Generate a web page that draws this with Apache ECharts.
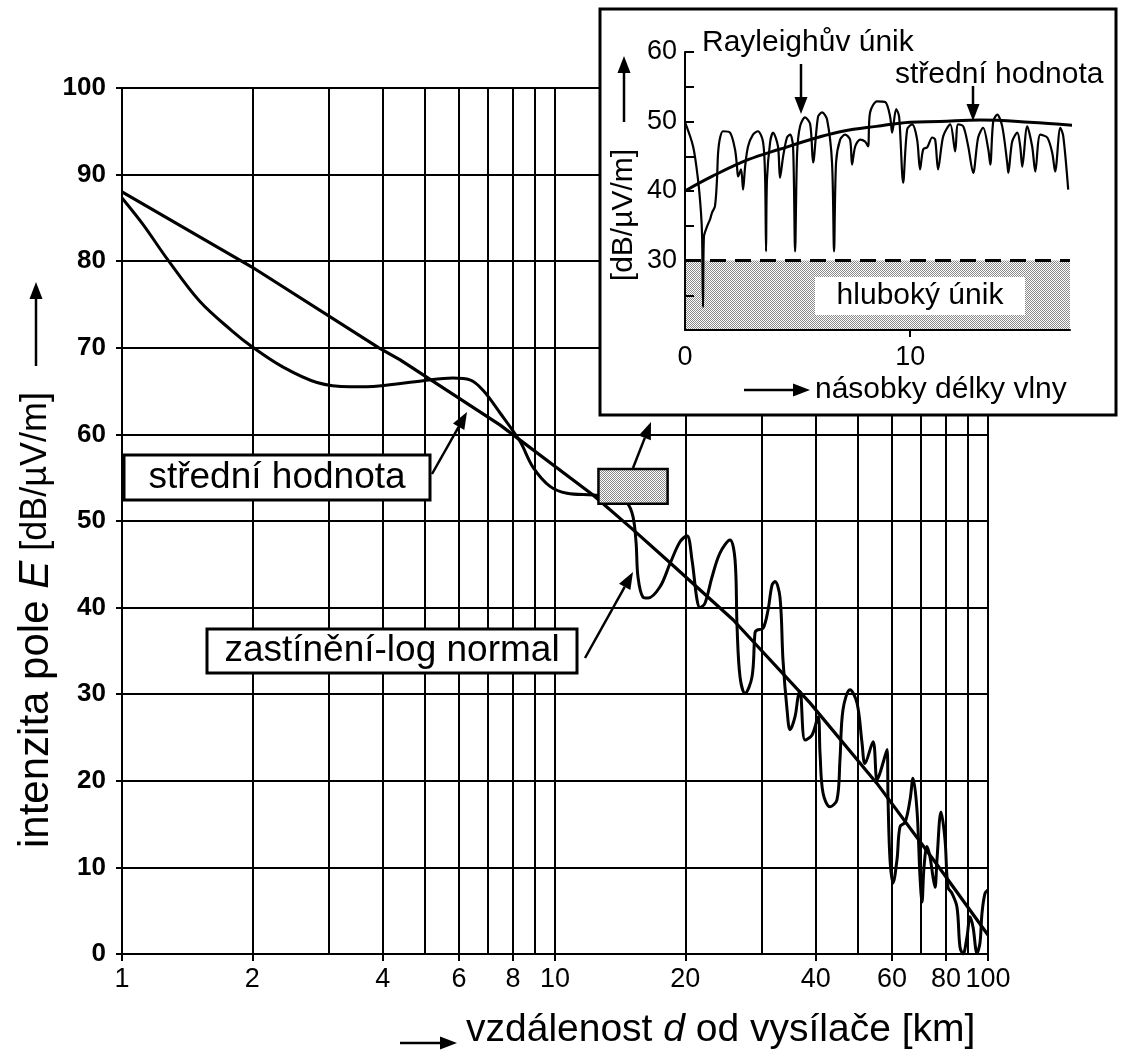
<!DOCTYPE html>
<html>
<head>
    <meta charset="utf-8">
    <title>Intenzita pole</title>
    <script src="https://cdn.jsdelivr.net/npm/echarts@6/dist/echarts.min.js"></script>
    <style>
        html, body { margin: 0; padding: 0; background: #fff; }
        #chart { width: 1128px; height: 1053px; }
    </style>
</head>
<body>
<div id="chart"></div>
<script>
    // hlavni graf: vzdalenost [km] a intenzita pole [dB/uV/m]
    var fadeKm = [1, 1.12, 1.27, 1.51, 1.8, 2.0, 2.35, 2.82, 3.36, 3.92, 4.96, 5.81, 6.36, 6.82, 7.46, 8.3, 8.9, 9.74,
        10.66, 12.24, 13.91, 14.67, 15.14, 15.39, 15.55, 15.97, 16.4, 17.48, 18.44, 19.44, 20.17, 20.72, 21.28, 21.62,
        22.2, 23.04, 24.04, 25.36, 26.05, 26.33, 26.75, 27.47, 28.51, 28.97, 29.28, 30.23, 31.04, 31.71, 32.22, 33.08,
        33.62, 34.35, 34.9, 35.84, 36.42, 36.81, 37.8, 39.24, 40.51, 40.93, 41.59, 43.16, 44.79, 45.51, 46.25, 48.01,
        49.83, 51.17, 51.99, 54.26, 55.42, 56.31, 58.46, 58.77, 59.39, 60.35, 61.64, 62.63, 64.33, 66.06, 67.12, 68.55,
        69.66, 70.4, 71.15, 72.29, 73.46, 74.64, 75.44, 76.24, 77.89, 79.56, 80.84, 82.58, 84.8, 86.16, 87.56, 89.44,
        90.88, 92.35, 94.33, 95.83, 96.85, 98.42, 100];
    var fadeDb = [87.3, 84.2, 80.3, 75.4, 71.9, 70.1, 67.8, 66.0, 65.5, 65.6, 66.2, 66.5, 66.3, 65.1, 62.5, 59.2, 56.2, 54.0,
        53.2, 53.0, 52.7, 52.1, 50.5, 47.5, 43.5, 41.2, 41.1, 42.4, 45.1, 47.6, 48.3, 45.5, 40.9, 40,
        40.5, 43.5, 46.3, 47.8, 45.5, 37.8, 32, 30.1, 32, 37.1, 37.4, 37.6, 39.7, 42.6, 43, 41.2,
        33.9, 28.2, 25.9, 27.4, 29.7, 30.3, 24.7, 25.3, 27.4, 23.2, 18.6, 17, 17.8, 22.4, 28.2, 30.5,
        29, 24.4, 22, 24.5, 20.1, 20.9, 23.6, 17.8, 10.9, 8.2, 10.9, 14.7, 15.2, 17.8, 20.3, 16.6,
        8.9, 6, 10, 12.4, 11.2, 8.9, 7.7, 10.9, 16.4, 13.2, 7.7, 7, 5.4, 0.8, 0, 2,
        4.3, 3.1, 0.1, 1.3, 4.7, 7, 7.4];
    var meanKm = [1, 2, 3.92, 4.39, 7.46, 12.24, 15.14, 18.14, 25.77, 38.8, 55.4, 76.3, 100];
    var meanDb = [88, 79.3, 70, 68.6, 61.1, 53, 49, 45.5, 38.6, 29, 19.7, 10.3, 2.2];
    var gridKm = [2, 3, 4, 5, 6, 7, 8, 9, 10, 20, 30, 40, 50, 60, 70, 80, 90, 100];
    var xTickKm = [1, 2, 4, 6, 8, 10, 20, 40, 60, 80, 100];
    var boxKm = [12.6, 18.2];
    var boxDb = [56, 52];

    // vlozeny graf: nasobky delky vlny
    var waveX = [0, 0.36, 0.58, 0.71, 0.76, 0.8, 0.84, 0.98, 1.11, 1.2, 1.33, 1.42, 1.47, 1.56, 1.69, 2.0, 2.22, 2.31,
        2.36, 2.49, 2.58, 2.67, 2.8, 3.02, 3.24, 3.47, 3.56, 3.6, 3.64, 3.78, 3.91, 4.13, 4.22, 4.36, 4.53, 4.67, 4.8,
        4.89, 4.98, 5.11, 5.33, 5.56, 5.69, 5.91, 6.09, 6.31, 6.53, 6.62, 6.71, 6.89, 7.11, 7.33, 7.42, 7.56, 7.78, 8.0,
        8.13, 8.22, 8.53, 8.89, 9.11, 9.2, 9.38, 9.51, 9.69, 9.87, 10.09, 10.31, 10.44, 10.58, 10.76, 10.98, 11.11,
        11.24, 11.47, 11.78, 12.0, 12.13, 12.36, 12.58, 12.8, 13.02, 13.24, 13.47, 13.56, 13.69, 13.87, 14.09, 14.31,
        14.36, 14.53, 14.76, 14.89, 14.98, 15.2, 15.42, 15.56, 15.78, 16.09, 16.31, 16.44, 16.67, 16.8, 17.02];
    var waveDb = [49.9, 46.4, 41.6, 36.9, 33.4, 23.3, 33.4, 34.9, 35.9, 36.9, 37.8, 41.6, 45.5, 47.7, 48.6, 48.4, 46, 43.5,
        42.1, 43.1, 40.2, 43.5, 46.4, 48.1, 48.6, 47, 41.6, 31.3, 41.6, 47, 48.4, 46.4, 41.9, 45, 47.7, 48.1, 46.4,
        31.3, 45.5, 49.3, 50.6, 49.6, 44.1, 50.7, 51.3, 50.3, 44.1, 31.3, 44.1, 47.4, 48.1, 47.4, 43.8, 46.4, 47.4, 47.1,
        46.4, 51.3, 52.9, 52.8, 50.7, 48.4, 51.8, 50.7, 41.2, 48.9, 49.6, 47.4, 43.1, 46, 46.3, 47.7, 47.4,
        43.1, 47.9, 49.6, 45.7, 49.6, 49.3, 46.4, 42.6, 47.7, 49.1, 46, 43.8, 50, 51, 49.3, 44.1,
        42.6, 47.1, 48.4, 46.4, 43.5, 49.3, 46.4, 42.8, 48.1, 47.7, 45.5, 42.8, 49.1, 47.9, 40.2];
    var waveMeanX = [0, 1.2, 2.8, 4.2, 6, 7, 8.5, 10, 11.3, 13.1, 15.3, 17.4];
    var waveMeanDb = [40, 42.1, 44.5, 46, 47.8, 48.6, 49.3, 49.9, 50, 50.2, 49.9, 49.4];
    var deepFadeDb = 30;
    var insetFloorDb = 20;
    var insetEndX = 17.1;

    var FONT = '"Liberation Sans", Arial, Helvetica, sans-serif';

    function pairs(xs, ys) {
        return xs.map(function (x, i) { return [x, ys[i]]; });
    }

    // tečkovaná výplň
    var pc = document.createElement('canvas');
    pc.width = 2; pc.height = 2;
    var pctx = pc.getContext('2d');
    pctx.fillStyle = '#fff';
    pctx.fillRect(0, 0, 2, 2);
    pctx.fillStyle = '#8a8a8a';
    pctx.fillRect(0, 0, 1, 1);
    pctx.fillRect(1, 1, 1, 1);
    var dots = { image: pc, repeat: 'repeat' };

    function arrow(x1, y1, x2, y2, w) {
        var a = Math.atan2(y2 - y1, x2 - x1);
        var L = 17, W = 6.5;
        var bx = x2 - L * Math.cos(a), by = y2 - L * Math.sin(a);
        return [
            { type: 'line', z: 30, shape: { x1: x1, y1: y1, x2: bx, y2: by }, style: { stroke: '#000', lineWidth: w || 2.5 } },
            { type: 'polygon', z: 30, shape: { points: [[x2, y2], [bx + W * Math.sin(a), by - W * Math.cos(a)], [bx - W * Math.sin(a), by + W * Math.cos(a)]] }, style: { fill: '#000' } }
        ];
    }

    function label(x, y, txt, size, align, extra) {
        var el = { type: 'text', z: 31, x: x, y: y, style: { text: txt, fontSize: size, fontFamily: FONT, fill: '#000', align: align || 'left', verticalAlign: 'middle' } };
        if (extra) { for (var k in extra) el[k] = extra[k]; }
        return el;
    }

    var graphics = [
        // ram vlozeneho grafu
        { type: 'rect', z: 6, shape: { x: 600, y: 9, width: 516, height: 406 }, style: { fill: '#fff', stroke: '#000', lineWidth: 3 } },
        { type: 'rect', z: 20, shape: { x: 815, y: 277, width: 210, height: 38 }, style: { fill: '#fff' } },
        label(920, 296, 'hluboký únik', 30, 'center'),
        label(702, 43, 'Rayleighův únik', 30),
        label(895, 75, 'střední hodnota', 30),
        label(815, 390, 'násobky délky vlny', 30),
        label(624, 215, '[dB/µV/m]', 30, 'center', { rotation: Math.PI / 2 }),
        // popisky hlavniho grafu
        { type: 'rect', z: 20, shape: { x: 124, y: 455, width: 306, height: 45 }, style: { fill: '#fff', stroke: '#000', lineWidth: 3 } },
        label(277, 478, 'střední hodnota', 37, 'center'),
        { type: 'rect', z: 20, shape: { x: 207, y: 629, width: 370, height: 44 }, style: { fill: '#fff', stroke: '#000', lineWidth: 3 } },
        label(392, 651, 'zastínění-log normal', 37, 'center'),
        {
            type: 'text', z: 31, x: 466, y: 1030,
            style: {
                text: '{n|vzdálenost }{i|d}{n| od vysílače [km]}', fill: '#000', align: 'left', verticalAlign: 'middle',
                rich: { n: { fontSize: 39, fontFamily: FONT }, i: { fontSize: 39, fontFamily: FONT, fontStyle: 'italic' } }
            }
        },
        {
            type: 'text', z: 31, x: 36, y: 620, rotation: Math.PI / 2,
            style: {
                text: '{n|intenzita pole }{i|E}{s| [dB/µV/m]}', fill: '#000', align: 'center', verticalAlign: 'middle',
                rich: {
                    n: { fontSize: 42, fontFamily: FONT },
                    i: { fontSize: 42, fontFamily: FONT, fontStyle: 'italic' },
                    s: { fontSize: 36, fontFamily: FONT }
                }
            }
        }
    ];
    graphics = graphics
        .concat(arrow(432, 474, 467, 412))
        .concat(arrow(585, 658, 633, 572))
        .concat(arrow(633, 468, 651, 422))
        .concat(arrow(801, 64, 801, 114))
        .concat(arrow(973, 86, 973, 121))
        .concat(arrow(624, 122, 624, 56))
        .concat(arrow(744, 390, 810, 390))
        .concat(arrow(400, 1043, 457, 1043))
        .concat(arrow(36, 366, 36, 282));

    var axisBlack = { color: '#000', width: 2 };

    var option = {
        animation: false,
        backgroundColor: '#fff',
        grid: [
            { left: 122, top: 88, width: 866, height: 866 },
            { left: 685, top: 52, width: 385, height: 278, z: 10 }
        ],
        xAxis: [
            {
                gridIndex: 0, type: 'log', logBase: 10, min: 1, max: 100,
                axisLine: { lineStyle: axisBlack },
                axisTick: { customValues: xTickKm, length: 7, lineStyle: axisBlack },
                axisLabel: { customValues: xTickKm, color: '#000', fontSize: 27, fontFamily: FONT, margin: 12 },
                splitLine: { show: false }
            },
            {
                gridIndex: 1, type: 'value', min: 0, max: insetEndX, z: 10,
                axisLine: { onZero: false, lineStyle: axisBlack },
                axisTick: { customValues: [10], length: 7, lineStyle: axisBlack },
                axisLabel: { customValues: [0, 10], color: '#000', fontSize: 27, fontFamily: FONT, margin: 14 },
                splitLine: { show: false }
            }
        ],
        yAxis: [
            {
                gridIndex: 0, type: 'value', min: 0, max: 100, interval: 10,
                axisLine: { show: true, lineStyle: axisBlack },
                axisTick: { show: true, length: 6, lineStyle: axisBlack },
                axisLabel: { color: '#000', fontSize: 26, fontWeight: 'bold', fontFamily: FONT, margin: 16 },
                splitLine: { lineStyle: axisBlack }
            },
            {
                gridIndex: 1, type: 'value', min: insetFloorDb, max: 60, interval: 5, z: 10,
                axisLine: { show: true, onZero: false, lineStyle: axisBlack },
                axisTick: { show: true, inside: true, length: 9, lineStyle: axisBlack },
                axisLabel: {
                    color: '#000', fontSize: 27, fontFamily: FONT, margin: 8,
                    formatter: function (v) { return (v % 10 === 0 && v > insetFloorDb) ? String(v) : ''; }
                },
                splitLine: { show: false }
            }
        ],
        graphic: { elements: graphics },
        series: [
            {
                type: 'line', xAxisIndex: 0, yAxisIndex: 0, z: 3,
                data: pairs(meanKm, meanDb),
                showSymbol: false, symbol: 'none',
                lineStyle: { color: '#000', width: 3.2 },
                markLine: {
                    silent: true, symbol: ['none', 'none'], label: { show: false },
                    lineStyle: { color: '#000', width: 2, type: 'solid' },
                    data: gridKm.map(function (v) { return { xAxis: v }; })
                }
            },
            {
                type: 'line', xAxisIndex: 0, yAxisIndex: 0, z: 3,
                data: pairs(fadeKm, fadeDb),
                showSymbol: false, symbol: 'none', smooth: 0.35,
                lineStyle: { color: '#000', width: 3 },
                markArea: {
                    silent: true, z: 5,
                    itemStyle: { color: dots, borderColor: '#000', borderWidth: 2.5 },
                    data: [[{ coord: [boxKm[0], boxDb[0]] }, { coord: [boxKm[1], boxDb[1]] }]]
                }
            },
            {
                type: 'line', xAxisIndex: 1, yAxisIndex: 1, z: 12, clip: false,
                data: pairs(waveMeanX, waveMeanDb),
                showSymbol: false, symbol: 'none', smooth: 0.4,
                lineStyle: { color: '#000', width: 3 },
                markArea: {
                    silent: true, z: 10,
                    itemStyle: { color: dots },
                    data: [[{ coord: [0, insetFloorDb] }, { coord: [insetEndX, deepFadeDb] }]]
                },
                markLine: {
                    silent: true, z: 13, symbol: ['none', 'none'], label: { show: false },
                    lineStyle: { color: '#000', width: 3, type: [16, 9] },
                    data: [[{ coord: [0, deepFadeDb] }, { coord: [insetEndX, deepFadeDb] }]]
                }
            },
            {
                type: 'line', xAxisIndex: 1, yAxisIndex: 1, z: 12,
                data: pairs(waveX, waveDb),
                showSymbol: false, symbol: 'none', smooth: 0.3,
                lineStyle: { color: '#000', width: 2.2 }
            }
        ]
    };

    var chart = echarts.init(document.getElementById('chart'));
    chart.setOption(option);
</script>
</body>
</html>
